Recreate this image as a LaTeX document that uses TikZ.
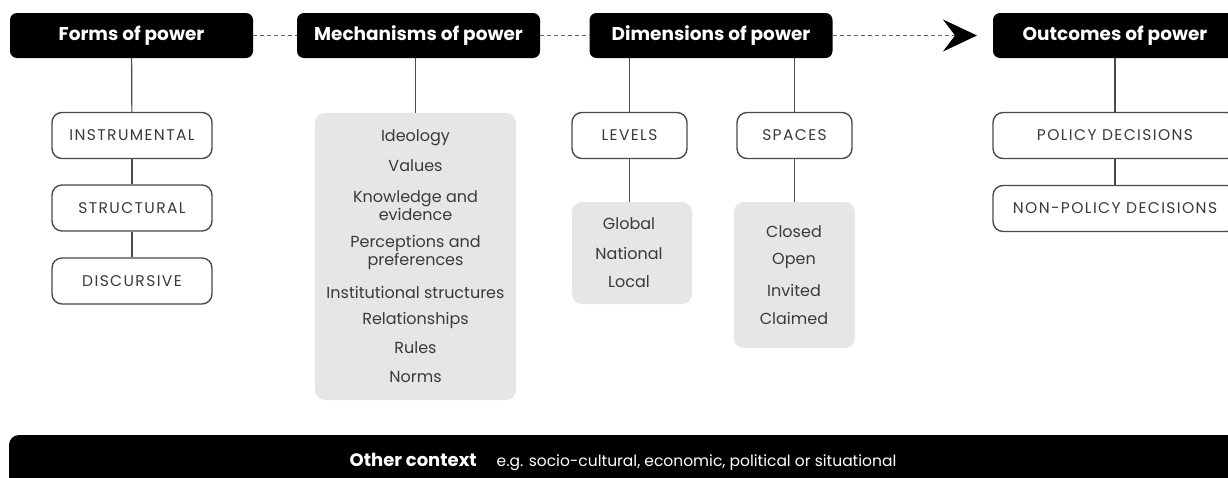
\documentclass[tikz,border=0pt]{standalone}
\usepackage{fontspec}
\setmainfont{Poppins}
\usepackage{tikz}
\usetikzlibrary{positioning, arrows.meta}

\definecolor{boxgrey}{HTML}{E6E6E6}
\definecolor{inkgrey}{HTML}{3A3A3A}
\definecolor{edgegrey}{HTML}{4A4A4A}

\tikzset{
    header/.style={fill=black, rounded corners=7pt, minimum width=243pt, minimum height=45pt,
        inner sep=0pt, text=white, font=\fontsize{18.5}{22}\selectfont\bfseries},
    tag/.style={draw=edgegrey, line width=1.4pt, fill=white, rounded corners=10pt,
        minimum height=46pt, inner sep=0pt, text=inkgrey,
        font=\fontsize{15.5}{18}\selectfont\addfontfeatures{LetterSpace=9}},
    listbox/.style={fill=boxgrey, rounded corners=10pt, inner sep=0pt},
    entry/.style={text=inkgrey, align=center, inner sep=0pt,
        font=\fontsize{16}{18}\selectfont},
    link/.style={draw=edgegrey, line width=1.2pt},
    dashlink/.style={draw=black!60, line width=1.2pt, dash pattern=on 4pt off 3pt},
}

\begin{document}
\begin{tikzpicture}[x=1pt, y=-1pt]
    \useasboundingbox (0,0) rectangle (1228,477);

    % Header boxes
    \node[header] (forms) at (131.5,35.5) {Forms of power};
    \node[header] (mechanisms) at (418.5,35.5) {Mechanisms of power};
    \node[header] (dimensions) at (711,35.5) {Dimensions of power};
    \node[header, minimum width=244pt] (outcomes) at (1115,35.5) {Outcomes of power};

    % Links between headers
    \draw[dashlink] (forms) -- (mechanisms);
    \draw[dashlink] (mechanisms) -- (dimensions);
    \coordinate (tip) at (977,35.5);
    \draw[dashlink, -{Stealth[length=34pt, width=32pt, inset=12pt, black]}] (dimensions) -- (tip);

    % Forms of power
    \node[tag, minimum width=160pt] (instrumental) at (132,135.5) {INSTRUMENTAL};
    \node[tag, minimum width=160pt] (structural) at (132,208) {STRUCTURAL};
    \node[tag, minimum width=160pt] (discursive) at (132,281) {DISCURSIVE};
    \draw[link] (forms) -- (instrumental);
    \draw[link] (instrumental) -- (structural);
    \draw[link] (structural) -- (discursive);

    % Mechanisms of power
    \node[listbox, minimum width=201pt, minimum height=287pt] (mechbox) at (415.5,256.5) {};
    \node[entry] (ideology) at (415.5,138) {Ideology};
    \node[entry] (values) at (415.5,166) {Values};
    \node[entry] (knowledge) at (415.5,206) {Knowledge and\\evidence};
    \node[entry] (perceptions) at (415.5,252) {Perceptions and\\preferences};
    \node[entry] (institutional) at (415.5,292) {Institutional structures};
    \node[entry] (relationships) at (415.5,320) {Relationships};
    \node[entry] (rules) at (415.5,348) {Rules};
    \node[entry] (norms) at (415.5,377) {Norms};
    \draw[link] (mechanisms.south -| mechbox.north) -- (mechbox.north);

    % Dimensions of power
    \node[tag, minimum width=115pt] (levels) at (629.5,135.5) {LEVELS};
    \node[tag, minimum width=115pt] (spaces) at (794.5,135.5) {SPACES};
    \node[listbox, minimum width=120pt, minimum height=102pt] (levelbox) at (632,253) {};
    \node[entry] (global) at (629,224) {Global};
    \node[entry] (national) at (629,253) {National};
    \node[entry] (local) at (629,282) {Local};
    \node[listbox, minimum width=121pt, minimum height=146pt] (spacebox) at (794.5,275) {};
    \node[entry] (closed) at (794,232) {Closed};
    \node[entry] (open) at (794,261) {Open};
    \node[entry] (invited) at (794,290) {Invited};
    \node[entry] (claimed) at (794,318) {Claimed};
    \draw[link] (levels.north) -- (levels.north |- dimensions.south);
    \draw[link] (spaces.north) -- (spaces.north |- dimensions.south);
    \draw[link] (levels.south) -- (levels.south |- levelbox.north);
    \draw[link] (spaces.south) -- (spaces.south |- spacebox.north);

    % Outcomes of power
    \node[tag, minimum width=244pt] (policy) at (1115,135.5) {POLICY DECISIONS};
    \node[tag, minimum width=244pt] (nonpolicy) at (1115,208.5) {NON-POLICY DECISIONS};
    \draw[link] (outcomes) -- (policy);
    \draw[link] (policy) -- (nonpolicy);

    % Context bar
    \node[header, minimum width=1228pt, minimum height=54pt, rounded corners=10pt,
        font=\fontsize{15.5}{18}\selectfont] (context) at (623,462)
        {{\fontsize{18}{20}\selectfont\bfseries Other context}\hspace{20pt}e.g. socio-cultural, economic, political or situational};
\end{tikzpicture}
\end{document}
